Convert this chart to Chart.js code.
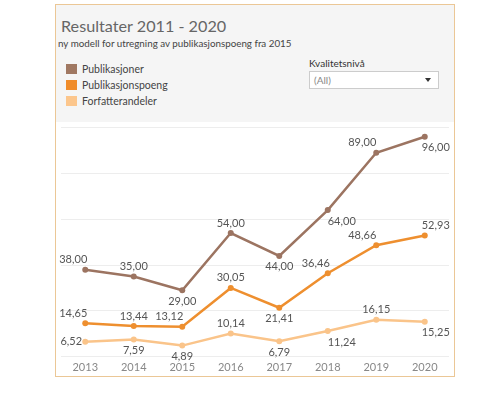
<!DOCTYPE html>
<html>
<head>
<meta charset="utf-8">
<script src="https://cdn.jsdelivr.net/npm/chart.js@4.4.0/dist/chart.umd.min.js"></script>
<style>
  body { margin: 0; background: #fff; font-family: Lato, "Open Sans", sans-serif; }
  #card { position: absolute; left: 55px; top: 4px; width: 398px; height: 371px; border: 1px solid #ebc796; background: #fff; }
  #head { position: absolute; left: 0; top: 0; width: 398px; height: 117px; background: #f5f5f5; }
  #title { position: absolute; left: 5px; top: 11px; font-size: 16.2px; color: #666; }
  #sub { position: absolute; left: 2px; top: 32px; font-size: 9.8px; color: #444; }
  .leg { position: absolute; left: 10px; font-size: 10.5px; color: #444; }
  .leg span { display: inline-block; width: 11px; height: 10px; vertical-align: -1px; margin-right: 5px; }
  #flt { position: absolute; left: 253px; top: 52px; font-size: 10px; color: #333; }
  #dd { position: absolute; left: 253px; top: 66px; width: 128px; height: 16px; border: 1px solid #ccc; background: #fff; font-size: 10px; color: #888; }
  #dd .t { position: absolute; left: 4px; top: 2px; }
  #dd .a { position: absolute; right: 7px; top: 6px; width: 0; height: 0; border-left: 3px solid transparent; border-right: 3px solid transparent; border-top: 4px solid #333; }
  #wrap { position: absolute; left: 1px; top: 113px; width: 396px; height: 262px; }
</style>
</head>
<body>
<div id="card">
  <div id="head">
    <div id="title">Resultater 2011 - 2020</div>
    <div id="sub">ny modell for utregning av publikasjonspoeng fra 2015</div>
    <div class="leg" style="top:58px"><span style="background:#a07862"></span>Publikasjoner</div>
    <div class="leg" style="top:74px"><span style="background:#f08c2a"></span>Publikasjonspoeng</div>
    <div class="leg" style="top:90px"><span style="background:#fcc68c"></span>Forfatterandeler</div>
    <div id="flt">Kvalitetsnivå</div>
    <div id="dd"><div class="t">(All)</div><div class="a"></div></div>
  </div>
  <div id="wrap"><canvas id="chart"></canvas></div>
</div>
<script>
const years = ['2013', '2014', '2015', '2016', '2017', '2018', '2019', '2020'];
const publikasjoner = [38, 35, 29, 54, 44, 64, 89, 96];
const publikasjonspoeng = [14.65, 13.44, 13.12, 30.05, 21.41, 36.46, 48.66, 52.93];
const forfatterandeler = [6.52, 7.59, 4.89, 10.14, 6.79, 11.24, 16.15, 15.25];

// label placement per point: a = above, b = below, l = left; plus x shift
const posBrown = [['a', -12], ['a', 0], ['b', 0], ['a', 0], ['b', 0], ['b', 14], ['a', -14], ['b', 11]];
const posOrange = [['a', -12], ['a', 0], ['a', -13], ['a', 0], ['b', 0], ['a', -12], ['a', -14], ['a', 11]];
const posLight = [['l', -14], ['b', 0], ['b', 0], ['a', 0], ['b', 0], ['b', 14], ['a', 0], ['b', 11]];

const valueLabels = {
    id: 'valueLabels',
    afterDatasetsDraw(chart) {
        const ctx = chart.ctx;
        ctx.save();
        ctx.font = '11px Lato, "Open Sans", sans-serif';
        ctx.fillStyle = '#555';
        ctx.textAlign = 'center';
        ctx.textBaseline = 'middle';
        chart.data.datasets.forEach(function(ds, i) {
            chart.getDatasetMeta(i).data.forEach(function(pt, j) {
                const p = ds.labelPos[j];
                let y = pt.y;
                if (p[0] === 'a') y -= 10;
                if (p[0] === 'b') y += 11;
                const txt = ds.data[j].toFixed(2).replace('.', ',');
                ctx.fillText(txt, pt.x + p[1], y);
            });
        });
        ctx.restore();
    }
};

function line(label, data, color, pos) {
    return {
        label: label,
        data: data,
        borderColor: color,
        backgroundColor: color,
        borderWidth: 2.5,
        pointRadius: 3,
        pointBorderWidth: 0,
        tension: 0,
        labelPos: pos
    };
}

new Chart(document.getElementById('chart'), {
    type: 'line',
    data: {
        labels: years,
        datasets: [
            line('Publikasjoner', publikasjoner, '#9c7461', posBrown),
            line('Publikasjonspoeng', publikasjonspoeng, '#ee8f2f', posOrange),
            line('Forfatterandeler', forfatterandeler, '#fac48a', posLight)
        ]
    },
    options: {
        responsive: true,
        maintainAspectRatio: false,
        animation: false,
        layout: { padding: { top: 5, left: 0, right: 0, bottom: 2 } },
        plugins: { legend: { display: false }, tooltip: { enabled: false } },
        scales: {
            x: {
                offset: true,
                grid: { display: false, drawTicks: false },
                border: { display: false },
                ticks: { color: '#888', font: { size: 11, family: 'Lato, "Open Sans", sans-serif' }, padding: 4 }
            },
            y: {
                min: 0,
                max: 102,
                display: true,
                border: { display: false },
                grid: { color: '#ededed', drawTicks: false },
                ticks: { display: false, stepSize: 20, includeBounds: false }
            }
        }
    },
    plugins: [valueLabels]
});
</script>
</body>
</html>
